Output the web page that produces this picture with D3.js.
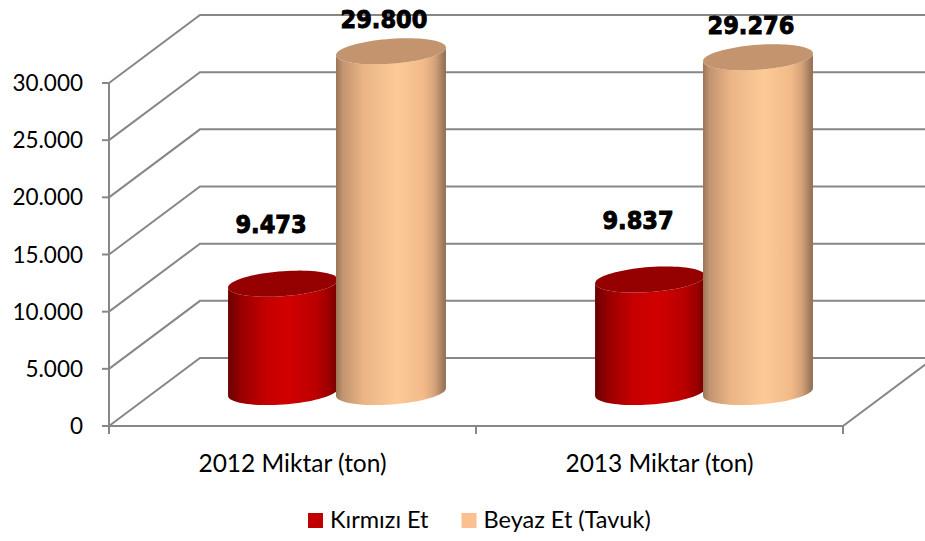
<!DOCTYPE html>
<html>
<head>
<meta charset="utf-8">
<script src="https://cdn.jsdelivr.net/npm/d3@7"></script>
<style>
  html, body { margin: 0; padding: 0; background: #ffffff; }
  svg { display: block; }
</style>
</head>
<body>
<svg id="chart" width="925" height="541"></svg>
<script>
// ---------- DATA ----------
const categories = ["2012 Miktar (ton)", "2013 Miktar (ton)"];
const seriesNames = ["Kırmızı Et", "Beyaz Et (Tavuk)"];
const kirmiziEt = [9473, 9837];
const beyazEt = [29800, 29276];
const yTickValues = [0, 5000, 10000, 15000, 20000, 25000, 30000];

// ---------- LAYOUT / STYLE ----------
const W = 925, H = 541;
const frontLeft = 109, frontRight = 843;
const frontBottom = 426, frontTop = 83;
const depthX = 91, depthY = -68;
const midFrac = 0.5;
const gridColor = "#878787";
const seriesStyle = [
  { name: seriesNames[0], values: kirmiziEt, legend: "#c00000", top: "#950000",
    stops: [[0, "#6a0000"], [0.12, "#980000"], [0.35, "#c60000"], [0.55, "#d10000"], [0.8, "#bb0000"], [0.93, "#980000"], [1, "#700000"]],
    labelDy: 51, labelDx: -13 },
  { name: seriesNames[1], values: beyazEt, legend: "#fac090", top: "#c4946e",
    stops: [[0, "#9a7658"], [0.06, "#c29470"], [0.25, "#eab485"], [0.55, "#fdca97"], [0.8, "#f2ba88"], [0.9, "#d4a27a"], [1, "#8e6c52"]],
    labelDy: 23, labelDx: -8 }
];

const svg = d3.select("#chart");
const defs = svg.append("defs");
seriesStyle.forEach((s, i) => {
  const g = defs.append("linearGradient").attr("id", "grad" + i)
    .attr("x1", "0%").attr("x2", "100%").attr("y1", "0%").attr("y2", "0%");
  s.stops.forEach(st => g.append("stop").attr("offset", st[0]).attr("stop-color", st[1]));
});

const fmt = d3.formatLocale({ decimal: ",", thousands: ".", grouping: [3], currency: ["", ""] }).format(",");

const y = d3.scaleLinear().domain([0, 30000]).range([frontBottom, frontTop]);
const x0 = d3.scaleBand().domain(categories).range([frontLeft, frontRight]).padding(0);
const x1 = d3.scaleBand().domain(seriesNames).range([0, x0.bandwidth()]).paddingInner(0).paddingOuter(0.7);

// ---------- GRID (left wall + back wall) ----------
const grid = svg.append("g");
yTickValues.forEach(t => {
  const yf = y(t);
  grid.append("path")
    .attr("d", `M${frontLeft},${yf} L${frontLeft + depthX},${yf + depthY} L${W + 5},${yf + depthY}`)
    .attr("fill", "none").attr("stroke", gridColor).attr("stroke-width", 2);
});
grid.append("path")
  .attr("d", `M${frontLeft},${y(0)} L${frontRight},${y(0)} L${frontRight + depthX},${y(0) + depthY}`)
  .attr("fill", "none").attr("stroke", gridColor).attr("stroke-width", 2);
grid.append("line").attr("x1", frontLeft).attr("x2", frontLeft)
  .attr("y1", y(30000)).attr("y2", y(0) + 8)
  .attr("stroke", gridColor).attr("stroke-width", 2);
yTickValues.forEach(t => {
  grid.append("line").attr("x1", frontLeft - 7).attr("x2", frontLeft)
    .attr("y1", y(t)).attr("y2", y(t)).attr("stroke", gridColor).attr("stroke-width", 2);
});
const bounds = categories.map(c => x0(c)).concat([frontRight]);
bounds.forEach(b => {
  grid.append("line").attr("x1", b).attr("x2", b)
    .attr("y1", y(0)).attr("y2", y(0) + 8).attr("stroke", gridColor).attr("stroke-width", 2);
});

// ---------- CYLINDERS ----------
const ry = 12.5, shear = -0.07;
function ellPt(cx, cy, rx, th) {
  return [cx + rx * Math.cos(th), cy + ry * Math.sin(th) + shear * rx * Math.cos(th)];
}
function arcPts(cx, cy, rx, a0, a1, n) {
  const pts = [];
  for (let k = 0; k <= n; k++) pts.push(ellPt(cx, cy, rx, a0 + (a1 - a0) * k / n));
  return pts;
}
const bars = svg.append("g");
categories.forEach((c, ci) => {
  seriesStyle.forEach((s, si) => {
    const rx = x1.bandwidth() / 2 + 1;
    const cx = x0(c) + x1(s.name) + x1.bandwidth() / 2 + depthX * midFrac - 1;
    const yb = y(0) + depthY * midFrac;
    const yt = y(s.values[ci]) + depthY * midFrac;
    const bottomFront = arcPts(cx, yb, rx, Math.PI, 0, 40);
    const topFront = arcPts(cx, yt, rx, 0, Math.PI, 40);
    const pts = [ellPt(cx, yt, rx, Math.PI)].concat(bottomFront).concat(topFront);
    bars.append("path")
      .attr("d", d3.line()(pts) + "Z")
      .attr("fill", `url(#grad${si})`);
    const topAll = arcPts(cx, yt, rx, 0, 2 * Math.PI, 80);
    bars.append("path")
      .attr("d", d3.line()(topAll) + "Z")
      .attr("fill", s.top);
  });
});

// ---------- VALUE LABELS ----------
const labels = svg.append("g");
categories.forEach((c, ci) => {
  seriesStyle.forEach((s, si) => {
    const cx = x0(c) + x1(s.name) + x1.bandwidth() / 2 + depthX * midFrac;
    const yt = y(s.values[ci]) + depthY * midFrac;
    labels.append("text")
      .attr("x", cx + s.labelDx).attr("y", yt - s.labelDy)
      .attr("text-anchor", "middle")
      .attr("font-family", "'DejaVu Sans Condensed', 'DejaVu Sans'")
      .attr("font-stretch", "condensed")
      .attr("font-weight", "bold")
      .attr("font-size", 25)
      .attr("fill", "#000").attr("stroke", "#000").attr("stroke-width", 0.9)
      .text(fmt(s.values[ci]));
  });
});

// ---------- AXIS TEXT ----------
const axisFont = "Lato, 'Open Sans', sans-serif";
yTickValues.forEach(t => {
  svg.append("text").attr("x", 83).attr("y", y(t)).attr("dy", "0.36em")
    .attr("text-anchor", "end").attr("font-family", axisFont).attr("font-size", 22.5)
    .attr("fill", "#000").text(fmt(t));
});
categories.forEach(c => {
  svg.append("text").attr("x", x0(c) + x0.bandwidth() / 2).attr("y", 472)
    .attr("text-anchor", "middle").attr("font-family", axisFont).attr("font-size", 24.5)
    .attr("fill", "#000").text(c);
});

// ---------- LEGEND ----------
const legend = svg.append("g");
let lx = 308;
seriesStyle.forEach(s => {
  legend.append("rect").attr("x", lx).attr("y", 513).attr("width", 15).attr("height", 15).attr("fill", s.legend);
  const t = legend.append("text").attr("x", lx + 22).attr("y", 528)
    .attr("font-family", axisFont).attr("font-size", 23.5).attr("fill", "#000").text(s.name);
  lx = lx + 22 + t.node().getComputedTextLength() + 33;
});
</script>
</body>
</html>
